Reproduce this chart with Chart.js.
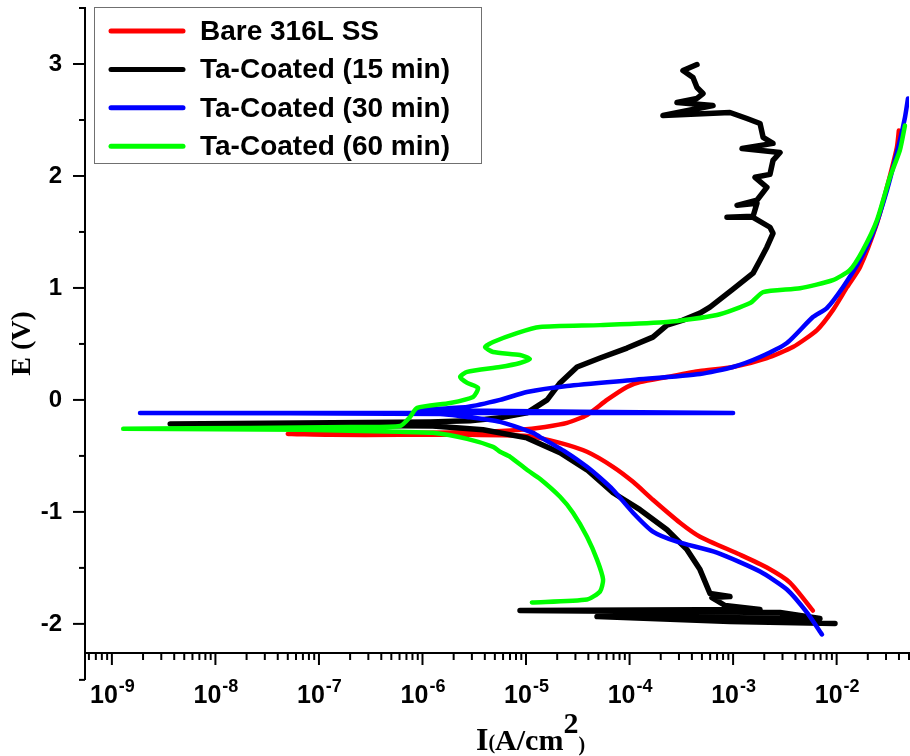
<!DOCTYPE html>
<html>
<head>
<meta charset="utf-8">
<script src="https://cdn.jsdelivr.net/npm/chart.js@4"></script>
<style>
  html, body { margin: 0; padding: 0; background: #fff; }
</style>
</head>
<body>
<canvas id="tafelChart" width="910" height="756"></canvas>
<script>
// Potentiodynamic polarisation curves, E (V) against I (A/cm2).
// Each curve runs from the cathodic end, through Ecorr, up the anodic branch.

const seriesLabels = ['Bare 316L SS', 'Ta-Coated (15 min)', 'Ta-Coated (30 min)', 'Ta-Coated (60 min)'];
const seriesColors = ['#ff0000', '#000000', '#0000ff', '#00ff00'];
const seriesWidths = [4.5, 5.5, 4.5, 4.5];

const bareI = [5.90e-3, 3.54e-3, 2.12e-3, 1.16e-3, 4.79e-4, 3.07e-4, 1.68e-4, 1.08e-4, 6.92e-5, 3.88e-5,
    2.13e-5, 1.02e-5, 2.88e-6, 6.08e-7, 1.28e-7, 5.04e-8, 9.48e-7, 3.60e-6, 8.75e-6, 1.53e-5,
    2.49e-5, 3.88e-5, 6.05e-5, 9.44e-5, 1.26e-4, 2.30e-4, 4.79e-4, 9.98e-4, 2.12e-3, 3.78e-3,
    6.46e-3, 9.20e-3, 1.26e-2, 1.68e-2, 2.45e-2, 3.06e-2, 3.82e-2, 3.99e-2];
const bareE = [-1.881, -1.631, -1.497, -1.381, -1.221, -1.096, -0.891, -0.731, -0.597, -0.463,
    -0.383, -0.321, -0.312, -0.312, -0.312, -0.303, -0.294, -0.285, -0.267, -0.241,
    -0.205, -0.134, 0.0, 0.116, 0.160, 0.205, 0.258, 0.294, 0.374, 0.472,
    0.624, 0.802, 1.007, 1.185, 1.578, 1.898, 2.255, 2.406];

const ta15I = [9.64e-3, 9.33e-4, 4.85e-5, 6.90e-3, 2.84e-3, 8.75e-6, 1.82e-3, 8.36e-4, 6.25e-4, 9.33e-4,
    5.98e-4, 4.79e-4, 3.59e-4, 2.30e-4, 1.26e-4, 6.92e-5, 3.88e-5, 2.13e-5, 1.02e-5, 3.85e-6,
    1.26e-6, 6.58e-8, 3.66e-9, 6.58e-8, 1.18e-6, 2.88e-6, 5.61e-6, 1.02e-5, 1.60e-5, 2.13e-5,
    3.11e-5, 5.19e-5, 9.44e-5, 1.68e-4, 2.30e-4, 3.28e-4, 4.79e-4, 5.98e-4, 9.98e-4, 1.56e-3,
    1.82e-3, 2.12e-3, 2.43e-3, 2.27e-3, 1.56e-3, 8.73e-4, 1.56e-3, 1.70e-3, 1.09e-3, 1.70e-3,
    2.12e-3, 1.63e-3, 2.27e-3, 2.43e-3, 2.84e-3, 1.22e-3, 2.43e-3, 1.95e-3, 1.82e-3, 1.36e-3,
    9.33e-4, 2.10e-4, 6.40e-4, 2.87e-4, 4.48e-4, 5.12e-4, 4.48e-4, 4.10e-4, 3.28e-4, 4.48e-4];
const ta15E = [-1.996, -1.979, -1.934, -1.952, -1.898, -1.881, -1.872, -1.836, -1.765, -1.756,
    -1.729, -1.515, -1.337, -1.159, -0.980, -0.829, -0.624, -0.472, -0.339, -0.267,
    -0.232, -0.223, -0.214, -0.205, -0.196, -0.187, -0.160, -0.116, 0.0, 0.152,
    0.294, 0.374, 0.463, 0.561, 0.668, 0.713, 0.775, 0.829, 0.989, 1.132,
    1.248, 1.364, 1.488, 1.542, 1.631, 1.631, 1.640, 1.756, 1.738, 1.783,
    1.898, 1.988, 2.014, 2.139, 2.210, 2.246, 2.291, 2.344, 2.469, 2.513,
    2.567, 2.540, 2.629, 2.656, 2.692, 2.736, 2.790, 2.879, 2.941, 2.995];

const ta30I = [7.21e-3, 5.16e-3, 3.31e-3, 1.82e-3, 6.98e-4, 2.87e-4, 1.68e-4, 1.08e-4, 6.92e-5, 5.19e-5,
    3.88e-5, 2.49e-5, 1.36e-5, 1.17e-5, 5.61e-6, 2.70e-6, 1.48e-6, 1.87e-9, 1.87e-9, 1.0e-3,
    1.0e-3, 8.87e-7, 2.70e-6, 5.61e-6, 1.02e-5, 2.49e-5, 1.08e-4, 4.79e-4, 9.98e-4, 1.82e-3,
    3.31e-3, 5.90e-3, 8.05e-3, 1.15e-2, 1.68e-2, 2.24e-2, 3.06e-2, 4.08e-2, 4.57e-2, 4.89e-2];
const ta30E = [-2.094, -1.898, -1.693, -1.533, -1.364, -1.266, -1.176, -1.007, -0.802, -0.695,
    -0.597, -0.472, -0.330, -0.294, -0.196, -0.152, -0.125, -0.116, -0.116, -0.116,
    -0.116, -0.089, -0.062, 0.0, 0.071, 0.125, 0.178, 0.232, 0.294, 0.383,
    0.508, 0.740, 0.820, 1.007, 1.248, 1.488, 1.872, 2.317, 2.522, 2.692];

const ta60I = [1.14e-5, 3.88e-5, 5.19e-5, 5.55e-5, 4.85e-5, 3.88e-5, 2.84e-5, 2.13e-5, 1.36e-5, 1.02e-5,
    7.02e-6, 5.61e-6, 4.81e-6, 2.70e-6, 1.26e-6, 6.08e-7, 2.00e-7, 7.13e-8, 1.29e-9, 2.16e-8,
    2.00e-7, 6.08e-7, 7.58e-7, 8.87e-7, 1.85e-6, 3.08e-6, 3.44e-6, 2.70e-6, 2.31e-6, 2.70e-6,
    5.61e-6, 8.75e-6, 1.09e-5, 8.75e-6, 4.81e-6, 4.02e-6, 4.81e-6, 8.18e-6, 1.36e-5, 5.19e-5,
    2.30e-4, 6.98e-4, 1.46e-3, 1.95e-3, 4.43e-3, 9.20e-3, 1.34e-2, 1.79e-2, 2.45e-2, 3.27e-2,
    4.08e-2, 4.57e-2];
const ta60E = [-1.809, -1.783, -1.711, -1.604, -1.426, -1.221, -1.007, -0.865, -0.704, -0.624,
    -0.508, -0.463, -0.419, -0.348, -0.294, -0.285, -0.276, -0.267, -0.258, -0.250,
    -0.241, -0.232, -0.152, -0.071, -0.027, 0.027, 0.107, 0.152, 0.205, 0.250,
    0.294, 0.330, 0.365, 0.401, 0.428, 0.472, 0.517, 0.597, 0.651, 0.668,
    0.695, 0.758, 0.865, 0.963, 0.998, 1.070, 1.159, 1.337, 1.604, 1.988,
    2.228, 2.451];

// axes
const xMin = 5.5e-10, xMax = 0.05;
const yMin = -2.26, yMax = 3.5;
const xDecadeExponents = [-9, -8, -7, -6, -5, -4, -3, -2];
const yTickValues = [-2.5, -2, -1.5, -1, -0.5, 0, 0.5, 1, 1.5, 2, 2.5, 3, 3.5];

const sansBold = (px) => `bold ${px}px "Liberation Sans", Arial, sans-serif`;
const serifBold = (px) => `bold ${px}px "Liberation Serif", "Times New Roman", serif`;

function toPoints(currents, potentials) {
    return currents.map((c, i) => ({x: c, y: potentials[i]}));
}

// tick marks, decade labels with superscripts, axis titles and the boxed legend
const originStyleDecor = {
    id: 'originStyleDecor',
    afterDraw(chart) {
        const {ctx, chartArea: area, scales} = chart;
        const xs = scales.x, ys = scales.y;
        const seg = (x1, y1, x2, y2) => {
            ctx.beginPath(); ctx.moveTo(x1, y1); ctx.lineTo(x2, y2); ctx.stroke();
        };
        ctx.save();
        ctx.strokeStyle = '#000';
        ctx.fillStyle = '#000';
        ctx.lineWidth = 2;

        // the y axis carries on a bit past the x axis, as in the original plot
        seg(area.left, area.bottom, area.left, ys.getPixelForValue(yTickValues[0]));
        yTickValues.forEach(v => {
            const p = ys.getPixelForValue(v);
            seg(area.left - (Number.isInteger(v) ? 12 : 6), p, area.left, p);
        });

        // log ticks: long at decades, short at 2..9
        [-10].concat(xDecadeExponents).forEach(e => {
            for (let m = 1; m <= 9; m++) {
                const v = m * Math.pow(10, e);
                if (v < xMin || v > xMax) continue;
                const p = xs.getPixelForValue(v);
                seg(p, area.bottom, p, area.bottom + (m === 1 ? 12 : 7));
            }
        });

        ctx.textAlign = 'left';
        ctx.textBaseline = 'alphabetic';
        xDecadeExponents.forEach(e => {
            const p = xs.getPixelForValue(Math.pow(10, e));
            ctx.font = sansBold(25);
            const wBase = ctx.measureText('10').width;
            ctx.font = sansBold(18);
            const wExp = ctx.measureText(String(e)).width;
            const left = p - (wBase + wExp) / 2;
            ctx.font = sansBold(25);
            ctx.fillText('10', left, area.bottom + 50);
            ctx.font = sansBold(18);
            ctx.fillText(String(e), left + wBase + 1, area.bottom + 39);
        });

        // x title: I(A/cm2) with mixed sizes
        let tx = area.left + 391;
        const base = area.bottom + 97;
        [['I', serifBold(32), 0], ['(', serifBold(20), -1], ['A/cm', serifBold(30), 0],
         ['2', serifBold(30), -17], [')', serifBold(20), 1]].forEach(([t, f, dy]) => {
            ctx.font = f;
            ctx.fillText(t, tx, base + dy);
            tx += ctx.measureText(t).width;
        });

        // y title
        ctx.save();
        ctx.translate(area.left - 62, (area.top + area.bottom) / 2 + 13);
        ctx.rotate(-Math.PI / 2);
        ctx.textAlign = 'center';
        ctx.textBaseline = 'middle';
        ctx.font = serifBold(28);
        ctx.fillText('E (V)', 0, 0);
        ctx.restore();

        // legend box in the top-left corner of the plot
        const bx = area.left + 9, by = area.top - 1;
        ctx.lineWidth = 1;
        ctx.strokeStyle = '#707070';
        ctx.strokeRect(bx + 0.5, by + 0.5, 387, 156);
        ctx.textBaseline = 'middle';
        ctx.font = sansBold(28);
        chart.data.datasets.forEach((ds, i) => {
            const cy = by + 24 + i * 38.4;
            ctx.strokeStyle = ds.borderColor;
            ctx.lineWidth = 5;
            ctx.lineCap = 'round';
            seg(bx + 17, cy, bx + 89, cy);
            ctx.fillText(ds.label, bx + 106, cy + 1);
        });
        ctx.restore();
    }
};

const datasets = [
    {data: toPoints(bareI, bareE), order: 4, tension: 0.2},
    {data: toPoints(ta15I, ta15E), order: 3, tension: 0},
    {data: toPoints(ta30I, ta30E), order: 2, tension: 0.2},
    {data: toPoints(ta60I, ta60E), order: 1, tension: 0.2}
].map((ds, i) => Object.assign(ds, {
    label: seriesLabels[i],
    borderColor: seriesColors[i],
    backgroundColor: seriesColors[i],
    borderWidth: seriesWidths[i],
    showLine: true,
    pointRadius: 0,
    borderCapStyle: 'round',
    borderJoinStyle: 'round',
    fill: false
}));

const ctx = document.getElementById('tafelChart').getContext('2d');
window.chart = new Chart(ctx, {
    type: 'scatter',
    data: {datasets: datasets},
    options: {
        responsive: false,
        animation: false,
        layout: {padding: {top: 8, right: 1, left: 0, bottom: 0}},
        plugins: {
            legend: {display: false},
            tooltip: {enabled: false}
        },
        scales: {
            x: {
                type: 'logarithmic',
                min: xMin,
                max: xMax,
                grid: {display: false, drawTicks: false},
                border: {display: true, color: '#000', width: 2},
                ticks: {display: false},
                afterFit: (scale) => {
                    scale.height = 103;
                    scale.paddingLeft = 0;
                    scale.paddingRight = 0;
                }
            },
            y: {
                min: yMin,
                max: yMax,
                grid: {display: false, drawTicks: false},
                border: {display: true, color: '#000', width: 2},
                ticks: {
                    stepSize: 0.5,
                    autoSkip: false,
                    padding: 23,
                    color: '#000',
                    font: {family: '"Liberation Sans", Arial, sans-serif', size: 24, weight: 'bold'},
                    callback: (v) => Number.isInteger(v) ? String(v) : ''
                },
                afterFit: (scale) => {
                    scale.width = 85;
                    // tick label padding would otherwise push the plot top down
                    scale.paddingTop = 0;
                    scale.paddingBottom = 0;
                }
            }
        }
    },
    plugins: [originStyleDecor]
});
</script>
</body>
</html>
